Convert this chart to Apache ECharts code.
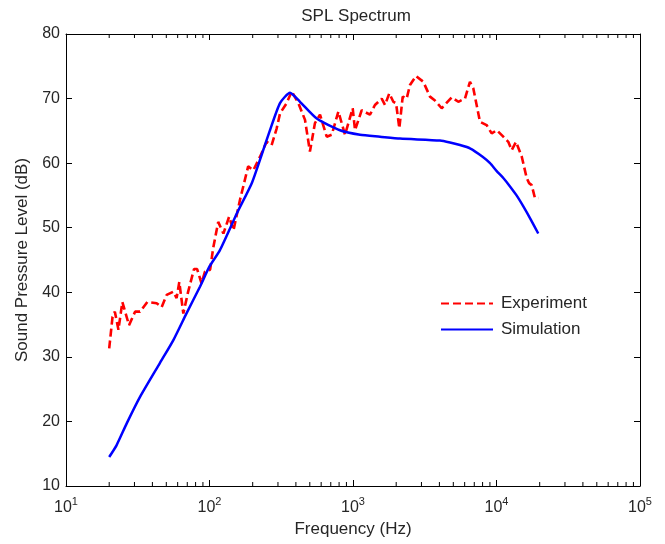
<!DOCTYPE html>
<html>
<head>
<meta charset="utf-8">
<script src="https://cdn.jsdelivr.net/npm/echarts@6/dist/echarts.min.js"></script>
<style>
html,body{margin:0;padding:0;background:#fff;}
#c{width:665px;height:544px;}
</style>
</head>
<body>
<div id="c"></div>
<script>
const expFreq = [20,21.1,21.9,23.2,24.7,27.5,30.3,32.8,36.9,42.8,46.4,50.3,56,59,61.6,65.7,71,78,82,88,93,101,106,115,125,137,147,163,186,202,225,250,271,294,310,345,374,416,463,501,543,589,656,711,791,880,995,1033,1150,1313,1422,1585,1671,1790,1910,1995,2103,2220,2366,2495,2747,3090,3440,3725,4150,4875,5420,6030,6530,6890,7670,8530,9260,10030,11150,12080,12760,13670,15000,16230,16870,17580,18530,19540];
const expSpl = [31.3,36.2,37.0,34.2,38.5,34.9,37.0,37.0,38.5,38.3,37.7,39.6,40.1,39.1,41.6,36.7,40.1,43.6,43.6,41.4,43.2,43.5,46.8,50.9,49.1,51.7,49.6,54.3,59.5,58.9,61.0,63.3,62.8,65.4,67.7,69.3,71.1,69.3,66.7,61.8,66.2,67.5,64.1,64.4,68.0,64.4,68.5,65.1,68.2,67.5,69.0,70.0,69.0,70.8,69.5,69.3,65.4,70.3,70.0,72.1,73.5,72.6,70.3,69.7,68.5,70.2,69.5,70.0,72.6,71.6,66.4,65.9,64.6,65.1,64.1,63.3,62.0,63.3,61.0,57.7,56.9,56.6,54.6,54.6];
const simFreq = [20,22.5,26.5,32.8,45,56,69,86,100,118,155,197,231,264,310,364,427,559,811,1119,1542,2128,4036,4740,5570,6530,8000,9016,10000,11150,12420,13800,15380,17300,19540];
const simSpl = [14.5,16.3,19.7,23.8,29.0,32.6,36.7,40.9,44.0,46.5,52.2,56.9,61.3,65.1,69.3,70.9,69.5,66.9,65.1,64.4,64.1,63.8,63.5,63.2,62.8,62.3,61.0,60.0,58.8,57.7,56.4,55.0,53.3,51.3,49.1];
const minorTickFreq = [20,30,40,50,60,70,80,90,200,300,400,500,600,700,800,900,2000,3000,4000,5000,6000,7000,8000,9000,20000,30000,40000,50000,60000,70000,80000,90000];
const yTicks = [10,20,30,40,50,60,70,80];
const seriesNames = ['Experiment','Simulation'];

const zip = (a,b) => a.map((v,i)=>[v,b[i]]);
const FONT = 'Liberation Sans, Arial, sans-serif';
const TXT = '#262626';

const chart = echarts.init(document.getElementById('c'), null, {renderer:'canvas'});
const xCommon = {
  type:'log', logBase:10, min:10, max:100000,
  axisLine:{show:true, onZero:false, lineStyle:{color:'#000', width:1}},
  axisTick:{show:true, inside:true, length:6, lineStyle:{color:'#000'}},
  splitLine:{show:false}
};
const yCommon = {
  type:'value', min:yTicks[0], max:yTicks[yTicks.length-1], interval:10,
  axisLine:{show:true, lineStyle:{color:'#000', width:1}},
  axisTick:{show:true, inside:true, length:6, lineStyle:{color:'#000'}},
  splitLine:{show:false}
};
chart.setOption({
  animation:false,
  backgroundColor:'#fff',
  title:{text:'SPL Spectrum', left:351, top:3, textAlign:'center',
    textStyle:{fontFamily:FONT, fontSize:17, fontWeight:'normal', color:TXT}},
  grid:{left:66, right:25, top:34, bottom:58, containLabel:false},
  legend:{
    data:seriesNames, orient:'vertical', left:435, top:290,
    itemWidth:52, itemHeight:14, itemGap:9,
    itemStyle:{opacity:0},
    textStyle:{fontFamily:FONT, fontSize:17, color:TXT, padding:[0,0,0,3]}
  },
  xAxis:[
    Object.assign({}, xCommon, {
      position:'bottom',
      name:'Frequency (Hz)', nameLocation:'middle', nameGap:34,
      nameTextStyle:{fontFamily:FONT, fontSize:17, color:TXT},
      axisLabel:{show:true, margin:10, color:TXT,
        formatter:function(v){ return '{b|10}{e|' + Math.round(Math.log10(v)) + '}'; },
        rich:{b:{fontFamily:FONT, fontSize:16, color:TXT, lineHeight:20, verticalAlign:'bottom'},
              e:{fontFamily:FONT, fontSize:11, color:TXT, lineHeight:20, verticalAlign:'top', padding:[0,0,9,0]}}}
    }),
    Object.assign({}, xCommon, {position:'top', axisLabel:{show:false}})
  ],
  yAxis:[
    Object.assign({}, yCommon, {
      position:'left',
      name:'Sound Pressure Level (dB)', nameLocation:'middle', nameGap:35, nameRotate:90,
      nameTextStyle:{fontFamily:FONT, fontSize:17, color:TXT},
      axisLabel:{show:true, margin:6, fontFamily:FONT, fontSize:16, color:TXT}
    }),
    Object.assign({}, yCommon, {position:'right', axisLabel:{show:false}})
  ],
  series:[
    {
      name:'Experiment', type:'line', xAxisIndex:0, yAxisIndex:0,
      data:zip(expFreq, expSpl), showSymbol:false, symbol:'none', smooth:false,
      lineStyle:{color:'#ff0000', width:2.6, type:[8,4]},
      itemStyle:{color:'#ff0000'}, z:3
    },
    {
      name:'Simulation', type:'line', xAxisIndex:0, yAxisIndex:0,
      data:zip(simFreq, simSpl), showSymbol:false, symbol:'none', smooth:0.2,
      lineStyle:{color:'#0000ff', width:2.5},
      itemStyle:{color:'#0000ff'}, z:4
    },
    {
      name:'minorTicks', type:'custom', xAxisIndex:0, yAxisIndex:0, silent:true,
      data:minorTickFreq.map(f=>[f, yTicks[0], yTicks[yTicks.length-1]]),
      encode:{x:0, y:[1,2]},
      renderItem:function(params, api){
        const b = api.coord([api.value(0), api.value(1)]);
        const t = api.coord([api.value(0), api.value(2)]);
        return {type:'group', children:[
          {type:'line', shape:{x1:b[0], y1:b[1], x2:b[0], y2:b[1]-4}, style:{stroke:'#000', lineWidth:1}},
          {type:'line', shape:{x1:t[0], y1:t[1], x2:t[0], y2:t[1]+4}, style:{stroke:'#000', lineWidth:1}}
        ]};
      },
      z:5
    }
  ]
});
</script>
</body>
</html>
